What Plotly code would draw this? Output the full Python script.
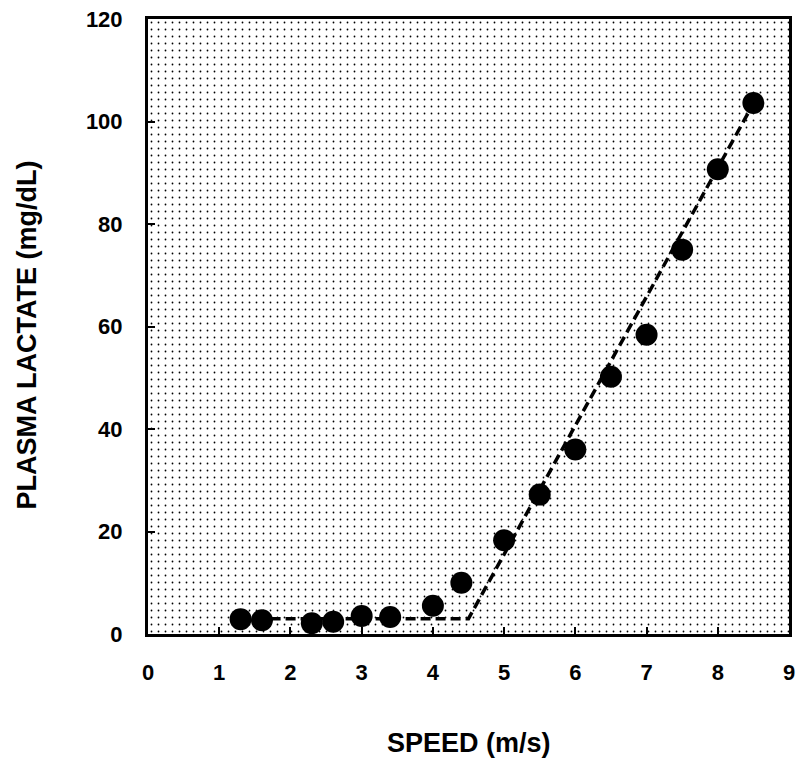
import plotly.graph_objects as go

speed = [1.3, 1.6, 2.3, 2.6, 3.0, 3.4, 4.0, 4.4, 5.0, 5.5, 6.0, 6.5, 7.0, 7.5, 8.0, 8.5]
lactate = [2.9, 2.7, 2.1, 2.4, 3.5, 3.3, 5.5, 10.0, 18.3, 27.2, 36.0, 50.2, 58.4, 75.0, 90.7, 103.6]

fit_x = [1.3, 4.5, 8.5]
fit_y = [3.0, 3.0, 103.5]

x_range = [0, 9]
y_range = [0, 120]
x_ticks = [0, 1, 2, 3, 4, 5, 6, 7, 8, 9]
y_ticks = [0, 20, 40, 60, 80, 100, 120]

FAM = "Liberation Sans, Arial, Helvetica, sans-serif"

fig = go.Figure()
# stippled background panel
fig.add_trace(go.Scatter(
    x=[x_range[0], x_range[1], x_range[1], x_range[0], x_range[0]],
    y=[y_range[0], y_range[0], y_range[1], y_range[1], y_range[0]],
    fill="toself", mode="none", fillcolor="white",
    fillpattern=dict(shape=".", size=7, solidity=0.05, fgcolor="black", bgcolor="white", fillmode="replace"),
    hoverinfo="skip", showlegend=False))
fig.add_trace(go.Scatter(x=fit_x, y=fit_y, mode="lines",
                         line=dict(color="black", width=3.5, dash="10px,5px"), showlegend=False))
fig.add_trace(go.Scatter(x=speed, y=lactate, mode="markers",
                         marker=dict(color="black", size=22), showlegend=False))

tickfont = dict(family=FAM, size=22, weight="bold", color="black")
titlefont = dict(family=FAM, size=27, weight="bold", color="black")

fig.update_layout(
    template="none",
    width=798, height=764,
    margin=dict(l=148, r=9, t=19, b=130, autoexpand=False),
    paper_bgcolor="white", plot_bgcolor="white",
    xaxis=dict(range=x_range, tickvals=x_ticks, ticks="inside", ticklen=7, tickwidth=2,
               tickcolor="black", showline=True, linecolor="black", linewidth=3, mirror=True,
               showgrid=False, zeroline=False, automargin=False,
               ticklabelstandoff=17, tickfont=tickfont),
    yaxis=dict(range=y_range, tickvals=y_ticks, ticks="inside", ticklen=7, tickwidth=2,
               tickcolor="black", showline=True, linecolor="black", linewidth=3, mirror=True,
               showgrid=False, zeroline=False, automargin=False,
               ticklabelstandoff=18, tickfont=tickfont),
    annotations=[
        dict(text="SPEED (m/s)", xref="paper", yref="paper", x=0.5, y=0,
             xanchor="center", yanchor="middle", yshift=-109, showarrow=False, font=titlefont),
        dict(text="PLASMA LACTATE (mg/dL)", xref="paper", yref="paper", x=0, y=0.5,
             xanchor="center", yanchor="middle", xshift=-122, yshift=-9, textangle=-90,
             showarrow=False, font=titlefont),
    ],
)
fig.write_html("out.html", config={"displayModeBar": False},
               post_script="document.body.style.margin='0';document.body.style.overflow='hidden';")
